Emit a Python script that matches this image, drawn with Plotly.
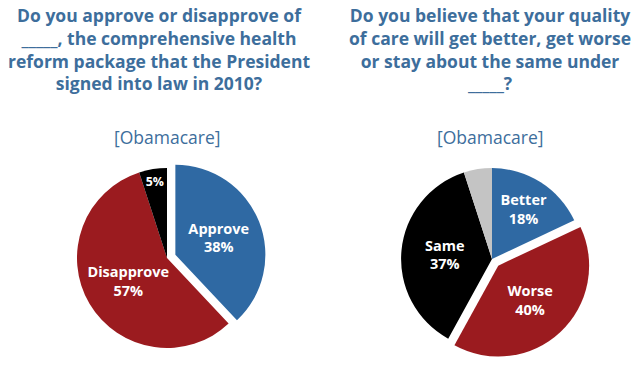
import plotly.graph_objects as go

# Data
left_labels = ["Approve", "Disapprove", "Don't know"]
left_values = [38, 57, 5]
right_labels = ["Better", "Worse", "Same", "Don't know"]
right_values = [18, 40, 37, 5]

left_title = ["Do you approve or disapprove of", "_____, the comprehensive health",
              "reform package that the President", "signed into law in 2010?"]
right_title = ["Do you believe that your quality", "of care will get better, get worse",
               "or stay about the same under", "_____?"]
sub_title = "[Obamacare]"

BLUE = "#2f69a3"
RED = "#9b1b1f"
BLACK = "#000000"
GRAY = "#c4c4c4"
TITLE = "#3d6e9c"
W, H = 640, 367
FONT = "Open Sans"

def dom(cx, cy, half):
    return dict(x=[(cx - half) / W, (cx + half) / W],
                y=[(H - cy - half) / H, (H - cy + half) / H])

lblfont = dict(family=FONT, size=14.5, color="white", weight="bold")

fig = go.Figure()
fig.add_trace(go.Pie(
    labels=left_labels, values=left_values, sort=False, direction="clockwise",
    rotation=0, pull=[0.1, 0, 0],
    marker=dict(colors=[BLUE, RED, BLACK], line=dict(width=0)),
    texttemplate=["%{label}<br>%{value}%", "%{label}<br>%{value}%", "%{value}%"],
    textposition="inside", insidetextorientation="horizontal",
    textfont=lblfont, domain=dom(167, 258, 99), showlegend=False,
    hoverinfo="label+percent",
))
fig.add_trace(go.Pie(
    labels=right_labels, values=right_values, sort=False, direction="clockwise",
    rotation=0, pull=[0, 0.1, 0, 0],
    marker=dict(colors=[BLUE, RED, BLACK, GRAY], line=dict(width=0)),
    texttemplate=["%{label}<br>%{value}%", "%{label}<br>%{value}%", "%{label}<br>%{value}%", ""],
    textposition="inside", insidetextorientation="horizontal",
    textfont=lblfont, domain=dom(492, 259, 100), showlegend=False,
    hoverinfo="label+percent",
))

tfont = dict(family=FONT, size=17.5, color=TITLE, weight="bold")
sfont = dict(family=FONT, size=17.5, color=TITLE)
for cx in (159, 490):
    lines = left_title if cx < 320 else right_title
    fig.add_annotation(text="<br>".join(lines), x=cx / W, y=1 - 1 / H, xref="paper", yref="paper",
                       xanchor="center", yanchor="top", showarrow=False, font=tfont, align="center")
for cx in (167, 490):
    fig.add_annotation(text=sub_title, x=cx / W, y=1 - 137 / H, xref="paper", yref="paper",
                       xanchor="center", yanchor="middle", showarrow=False, font=sfont)

fig.update_layout(width=W, height=H, margin=dict(l=0, r=0, t=0, b=0),
                  paper_bgcolor="white", plot_bgcolor="white")
fig.write_html("out.html", config={"displayModeBar": False},
               post_script="document.body.style.margin='0';")
